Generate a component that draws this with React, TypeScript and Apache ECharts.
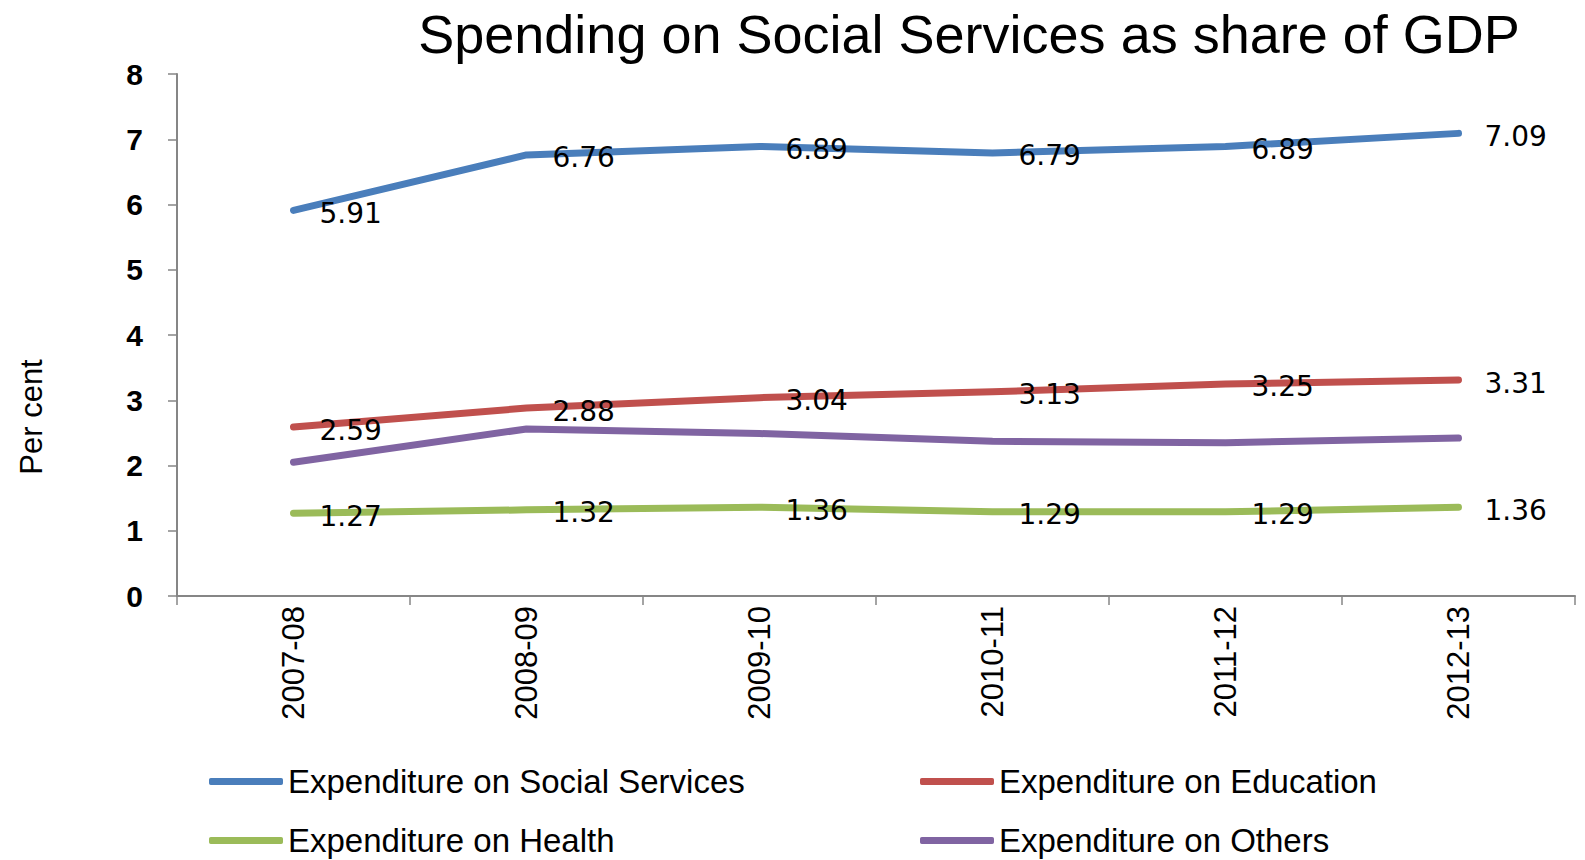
import React, { useEffect, useRef } from "react";
import * as echarts from "echarts";

const categories = ["2007-08", "2008-09", "2009-10", "2010-11", "2011-12", "2012-13"];
const socialServices = [5.91, 6.76, 6.89, 6.79, 6.89, 7.09];
const education = [2.59, 2.88, 3.04, 3.13, 3.25, 3.31];
const health = [1.27, 1.32, 1.36, 1.29, 1.29, 1.36];
const others = [2.05, 2.56, 2.49, 2.37, 2.35, 2.42];
const yTicks = [0, 1, 2, 3, 4, 5, 6, 7, 8];

const names = {
  social: "Expenditure on Social Services",
  edu: "Expenditure on Education",
  health: "Expenditure on Health",
  others: "Expenditure on Others",
};

export default function App() {
  const ref = useRef<HTMLDivElement>(null);
  useEffect(() => {
    if (!ref.current) return;
    const chart = echarts.init(ref.current, null, { renderer: "svg" });
    const labelCfg = {
      show: true,
      position: "right",
      distance: 26,
      offset: [0, 3],
      color: "#000",
      fontFamily: "DejaVu Sans",
      fontSize: 28,
      formatter: (p: any) => p.value.toFixed(2),
    };
    const mk = (name: string, data: number[], color: string, withLabel: boolean) => ({
      name,
      type: "line",
      data,
      symbol: "circle",
      symbolSize: 0,
      showSymbol: true,
      itemStyle: { color },
      lineStyle: { color, width: 7, cap: "round", join: "round" },
      label: withLabel ? labelCfg : { show: false },
      z: withLabel ? 3 : 2,
    });
    const legendText = { fontFamily: "Liberation Sans", fontSize: 33, color: "#000", lineHeight: 30 };
    const lg = (name: string, left: number, top: number) => ({
      orient: "horizontal",
      left,
      top,
      padding: 0,
      itemWidth: 74,
      itemHeight: 7,
      icon: "roundRect",
      data: [name],
      textStyle: legendText,
    });
    chart.setOption({
      animation: false,
      backgroundColor: "#fff",
      title: {
        text: "Spending on Social Services as share of GDP",
        left: 964,
        textAlign: "center",
        top: 2,
        textStyle: { fontFamily: "Liberation Sans", fontSize: 54, fontWeight: "normal", color: "#000" },
      },
      graphic: [
        {
          type: "text",
          x: 31,
          y: 417,
          rotation: Math.PI / 2,
          style: {
            text: "Per cent",
            fontFamily: "Liberation Sans",
            fontSize: 31,
            fill: "#000",
            align: "center",
            verticalAlign: "middle",
          },
        },
      ],
      grid: { left: 177, right: 10, top: 74, bottom: 264 },
      legend: [
        lg(names.social, 209, 765),
        lg(names.health, 209, 824),
        lg(names.edu, 920, 765),
        lg(names.others, 920, 824),
      ],
      xAxis: {
        type: "category",
        data: categories,
        boundaryGap: true,
        axisLine: { lineStyle: { color: "#868686", width: 2 } },
        axisTick: { show: true, length: 9, lineStyle: { color: "#868686", width: 1.5 } },
        axisLabel: {
          rotate: 90,
          margin: 10,
          color: "#000",
          fontFamily: "Liberation Sans",
          fontSize: 31,
        },
      },
      yAxis: {
        type: "value",
        min: yTicks[0],
        max: yTicks[yTicks.length - 1],
        interval: 1,
        axisLine: { show: true, lineStyle: { color: "#868686", width: 2 } },
        axisTick: { show: true, length: 9, lineStyle: { color: "#868686", width: 1.5 } },
        splitLine: { show: false },
        axisLabel: {
          margin: 34,
          color: "#000",
          fontFamily: "Liberation Sans",
          fontWeight: "bold",
          fontSize: 30,
        },
      },
      series: [
        mk(names.social, socialServices, "#4A7EBB", true),
        mk(names.edu, education, "#C0504D", true),
        mk(names.health, health, "#9BBB59", true),
        mk(names.others, others, "#8064A2", false),
      ],
    });
    return () => chart.dispose();
  }, []);
  return (
    <div
      ref={ref}
      style={{ position: "fixed", left: 0, top: 0, width: 1585, height: 860, background: "#fff" }}
    />
  );
}
